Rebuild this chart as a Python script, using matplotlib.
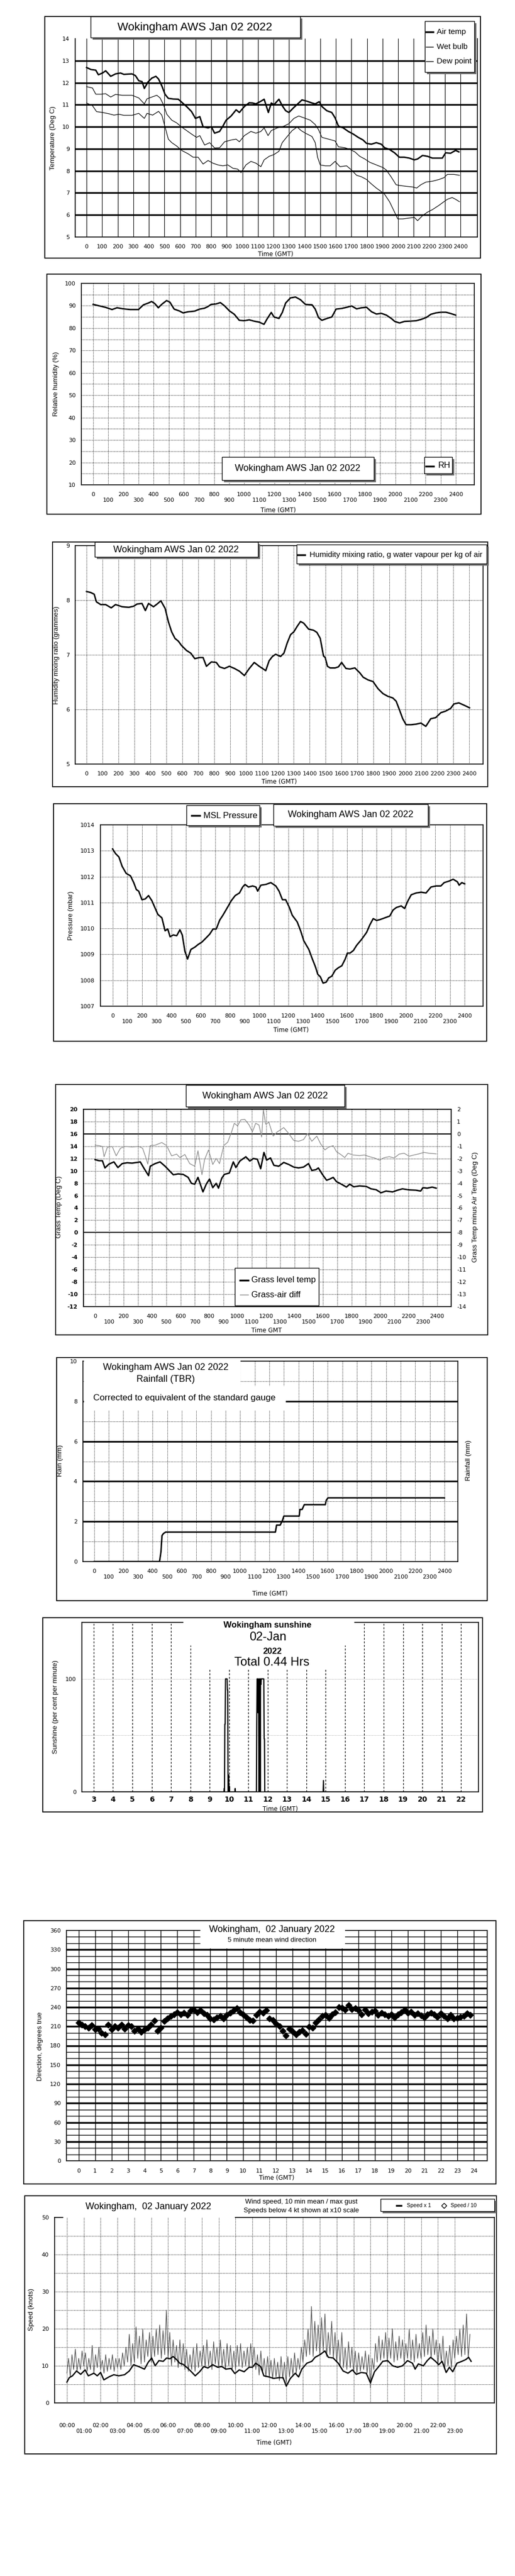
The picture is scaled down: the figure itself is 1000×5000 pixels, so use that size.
import numpy as np
import matplotlib
matplotlib.use("Agg")
import matplotlib.pyplot as plt
from matplotlib.patches import Rectangle
from matplotlib.lines import Line2D

# ---------------- data (time in hhmm-style hundreds or hours) ----------------
air_t = [0, 28, 59, 76, 102, 123, 155, 186, 218, 239, 292, 314, 335, 356, 371, 394, 419, 445, 462, 483,
         504, 525, 557, 589, 610, 642, 674, 699, 727, 748, 780, 801, 822, 854, 875, 896, 928, 960, 981, 1013,
         1044, 1066, 1087, 1119, 1140, 1167, 1186, 1203, 1235, 1256, 1278, 1299, 1331, 1362, 1383, 1415, 1447, 1468, 1494, 1511,
         1542, 1574, 1595, 1617, 1648, 1680, 1712, 1744, 1775, 1797, 1828, 1860, 1892, 1913, 1945, 1977, 2008, 2040, 2072, 2104,
         2125, 2157, 2189, 2220, 2263, 2284, 2305, 2337, 2369, 2390]
air_v = [12.69, 12.6, 12.57, 12.36, 12.44, 12.54, 12.29, 12.4, 12.44, 12.38, 12.4, 12.32, 12.09, 12.05, 11.74, 12.03, 12.21, 12.29, 12.17, 11.86,
         11.47, 11.29, 11.26, 11.25, 11.12, 10.92, 10.69, 10.38, 10.46, 10.0, 9.95, 10.0, 9.71, 9.79, 10.03, 10.3, 10.49, 10.77, 10.65, 10.92,
         11.09, 11.08, 11.04, 11.16, 11.25, 10.65, 11.08, 11.0, 11.25, 10.96, 10.73, 10.65, 10.88, 11.08, 11.22, 11.16, 11.08, 11.04, 11.14, 10.92,
         10.73, 10.65, 10.41, 10.03, 9.95, 9.79, 9.67, 9.52, 9.4, 9.25, 9.21, 9.28, 9.21, 9.05, 8.97, 8.82, 8.62, 8.62, 8.58, 8.5,
         8.54, 8.7, 8.66, 8.58, 8.58, 8.58, 8.82, 8.8, 8.93, 8.86]

wet_t = [0, 38, 59, 91, 123, 155, 186, 229, 292, 335, 371, 388, 419, 451, 472, 494, 515, 547, 578, 610,
         642, 674, 706, 727, 758, 790, 822, 854, 886, 928, 960, 981, 1013, 1055, 1087, 1119, 1140, 1165, 1186, 1225,
         1267, 1299, 1331, 1362, 1394, 1436, 1468, 1489, 1511, 1553, 1595, 1617, 1659, 1691, 1723, 1754, 1786, 1818, 1860, 1903,
         1924, 1955, 1987, 2008, 2051, 2093, 2119, 2146, 2178, 2220, 2263, 2294, 2316, 2358, 2394]
wet_v = [11.82, 11.76, 11.48, 11.48, 11.5, 11.35, 11.47, 11.43, 11.43, 11.31, 11.04, 11.27, 11.35, 11.43, 11.31, 11.0, 10.57, 10.3, 10.18, 9.99,
         9.83, 9.67, 9.52, 9.6, 9.17, 9.28, 9.04, 9.05, 9.32, 9.4, 9.44, 9.32, 9.6, 9.79, 9.71, 9.79, 9.95, 9.6, 9.83, 9.95,
         10.03, 10.14, 10.38, 10.49, 10.41, 10.3, 10.1, 9.87, 9.52, 9.44, 9.36, 9.09, 9.05, 8.97, 8.86, 8.66, 8.54, 8.39, 8.27, 8.15,
         8.04, 7.73, 7.37, 7.34, 7.3, 7.27, 7.22, 7.37, 7.49, 7.53, 7.61, 7.69, 7.84, 7.84, 7.8]

dew_t = [0, 38, 64, 102, 144, 176, 208, 239, 292, 335, 371, 388, 424, 462, 483, 504, 525, 547, 578, 610,
         653, 684, 716, 748, 780, 811, 843, 875, 907, 939, 970, 992, 1023, 1055, 1087, 1119, 1140, 1172, 1203, 1235,
         1256, 1288, 1320, 1352, 1377, 1405, 1447, 1468, 1483, 1500, 1532, 1564, 1595, 1627, 1669, 1701, 1733, 1765, 1797, 1828,
         1860, 1892, 1913, 1945, 1977, 1998, 2030, 2072, 2104, 2125, 2157, 2189, 2220, 2263, 2294, 2316, 2347, 2369, 2394]
dew_v = [11.08, 10.96, 10.69, 10.65, 10.59, 10.53, 10.57, 10.52, 10.52, 10.61, 10.38, 10.61, 10.53, 10.7, 10.53, 9.99, 9.44, 9.28, 9.13, 8.93,
         8.77, 8.62, 8.62, 8.31, 8.47, 8.35, 8.27, 8.23, 8.27, 8.12, 8.08, 7.92, 8.27, 8.43, 8.35, 8.19, 8.5, 8.66, 8.74, 8.89,
         9.28, 9.56, 9.83, 9.99, 9.83, 9.71, 9.56, 9.28, 8.62, 8.27, 8.23, 8.23, 8.43, 8.19, 8.23, 8.04, 7.8, 7.73, 7.61, 7.41,
         7.22, 7.06, 6.94, 6.6, 6.13, 5.82, 5.82, 5.86, 5.89, 5.74, 5.97, 6.13, 6.24, 6.44, 6.6, 6.71, 6.79, 6.71, 6.6]

rh_t = [0, 37, 81, 125, 158, 201, 245, 300, 333, 365, 387, 409, 431, 457, 486, 508, 536, 573, 595, 628,
        672, 705, 737, 759, 781, 814, 842, 869, 902, 934, 967, 1000, 1033, 1066, 1098, 1131, 1153, 1179, 1197, 1230,
        1252, 1274, 1306, 1339, 1372, 1405, 1449, 1470, 1492, 1514, 1547, 1580, 1608, 1646, 1678, 1711, 1744, 1777, 1810, 1843,
        1875, 1908, 1941, 1974, 1996, 2028, 2061, 2094, 2138, 2171, 2204, 2236, 2269, 2302, 2335, 2368, 2400]
rh_v = [90.6, 90.0, 89.3, 88.3, 89.1, 88.6, 88.3, 88.3, 90.4, 91.2, 91.9, 90.9, 89.1, 90.8, 92.3, 91.6, 88.5, 87.6, 86.8, 87.3,
        87.6, 88.5, 88.9, 89.6, 90.6, 90.8, 91.4, 90.0, 87.7, 86.2, 83.5, 83.3, 83.7, 83.1, 82.7, 81.7, 84.3, 87.0, 85.0, 84.3,
        87.0, 91.2, 93.5, 93.9, 92.7, 90.6, 90.4, 88.5, 84.7, 83.5, 84.3, 85.0, 88.5, 88.8, 89.3, 89.9, 88.6, 89.1, 89.3, 87.3,
        86.3, 86.6, 85.8, 84.3, 83.0, 82.3, 83.0, 83.1, 83.3, 83.9, 84.7, 86.2, 86.8, 87.1, 87.1, 86.5, 85.8]

mr_t = [0, 27, 48, 62, 89, 120, 155, 182, 224, 265, 296, 317, 348, 369, 389, 420, 447, 466, 493, 513,
        534, 555, 576, 596, 627, 654, 679, 710, 731, 752, 783, 814, 834, 865, 896, 928, 959, 990, 1021, 1052,
        1083, 1104, 1124, 1145, 1166, 1186, 1217, 1238, 1259, 1280, 1300, 1321, 1342, 1362, 1393, 1424, 1445, 1466, 1486, 1497,
        1511, 1528, 1559, 1580, 1600, 1627, 1652, 1683, 1714, 1735, 1766, 1797, 1828, 1859, 1890, 1921, 1942, 1963, 1983, 2004,
        2035, 2066, 2097, 2128, 2159, 2190, 2222, 2253, 2284, 2304, 2335, 2366, 2402]
mr_v = [8.16, 8.14, 8.11, 7.97, 7.92, 7.92, 7.86, 7.92, 7.88, 7.87, 7.89, 7.93, 7.94, 7.81, 7.94, 7.88, 7.94, 7.99, 7.85, 7.61,
        7.42, 7.30, 7.25, 7.17, 7.08, 7.03, 6.93, 6.95, 6.95, 6.79, 6.87, 6.86, 6.78, 6.75, 6.79, 6.75, 6.70, 6.62, 6.75, 6.86,
        6.79, 6.75, 6.71, 6.89, 6.97, 7.01, 6.97, 7.03, 7.22, 7.37, 7.42, 7.52, 7.61, 7.58, 7.47, 7.45, 7.41, 7.30, 6.98, 6.95,
        6.79, 6.76, 6.76, 6.78, 6.86, 6.75, 6.74, 6.76, 6.67, 6.59, 6.54, 6.51, 6.38, 6.29, 6.24, 6.21, 6.15, 5.99, 5.83, 5.72,
        5.72, 5.73, 5.75, 5.69, 5.83, 5.85, 5.94, 5.97, 6.02, 6.10, 6.12, 6.08, 6.03]

p_t = [0, 20, 43, 65, 92, 122, 144, 162, 178, 200, 223, 245, 268, 291, 309, 336, 358, 376, 392, 414,
       437, 459, 475, 493, 511, 534, 561, 583, 610, 640, 662, 685, 707, 730, 752, 786, 809, 836, 865, 887,
       903, 926, 955, 977, 989, 1011, 1045, 1079, 1113, 1135, 1158, 1180, 1203, 1225, 1259, 1282, 1304, 1338, 1360, 1383,
       1399, 1417, 1435, 1457, 1473, 1495, 1518, 1541, 1563, 1586, 1601, 1619, 1642, 1664, 1698, 1732, 1755, 1777, 1800, 1822,
       1856, 1890, 1912, 1935, 1968, 1991, 2014, 2036, 2070, 2104, 2137, 2171, 2205, 2238, 2261, 2295, 2322, 2351, 2363, 2381, 2401]
p_v = [1013.07, 1012.89, 1012.76, 1012.40, 1012.13, 1012.03, 1011.77, 1011.50, 1011.44, 1011.11,
       1011.14, 1011.27, 1011.07, 1010.77, 1010.54, 1010.41, 1009.91, 1009.98, 1009.68, 1009.75,
       1009.72, 1009.95, 1009.75, 1009.12, 1008.82, 1009.19, 1009.28, 1009.38, 1009.48, 1009.65,
       1009.78, 1009.98, 1009.98, 1010.32, 1010.51, 1010.84, 1011.07, 1011.27, 1011.37, 1011.60,
       1011.70, 1011.60, 1011.64, 1011.60, 1011.44, 1011.67, 1011.70, 1011.77, 1011.64, 1011.44,
       1011.11, 1011.11, 1010.84, 1010.51, 1010.25, 1009.91, 1009.52, 1009.19, 1008.85, 1008.52,
       1008.23, 1008.13, 1007.89, 1007.93, 1008.09, 1008.16, 1008.39, 1008.49, 1008.56, 1008.82,
       1009.05, 1009.05, 1009.15, 1009.35, 1009.58, 1009.85, 1010.15, 1010.38, 1010.31, 1010.34,
       1010.41, 1010.48, 1010.71, 1010.81, 1010.87, 1010.77, 1011.07, 1011.30, 1011.37, 1011.40,
       1011.37, 1011.60, 1011.64, 1011.64, 1011.77, 1011.83, 1011.90, 1011.80, 1011.67, 1011.77, 1011.72]

grass_t = [0, 28, 51, 69, 97, 132, 160, 190, 225, 259, 294, 317, 340, 375, 387, 421, 456, 491, 514, 549,
           583, 618, 653, 676, 699, 722, 757, 780, 803, 826, 850, 866, 889, 907, 942, 970, 988, 1016, 1058, 1086,
           1111, 1139, 1162, 1185, 1204, 1231, 1255, 1289, 1324, 1359, 1394, 1428, 1463, 1498, 1521, 1551, 1567, 1597, 1625, 1648,
           1671, 1694, 1729, 1764, 1787, 1815, 1856, 1903, 1937, 1972, 2007, 2042, 2088, 2123, 2157, 2204, 2250, 2285, 2301, 2331,
           2366, 2394]
grass_v = [11.82, 11.65, 11.65, 10.48, 11.10, 11.46, 10.54, 11.18, 11.32, 11.26, 11.37, 11.46, 10.54, 9.23, 10.76, 11.18, 11.46, 10.76, 10.21, 9.37,
           9.51, 9.43, 8.95, 7.98, 7.84, 8.95, 6.59, 7.84, 8.68, 7.28, 7.98, 7.20, 8.81, 9.43, 9.65, 11.46, 10.54, 11.60, 12.29, 11.60,
           12.01, 11.88, 10.35, 12.99, 11.74, 12.10, 10.90, 10.76, 11.37, 11.04, 10.62, 10.48, 10.62, 11.18, 10.07, 10.21, 10.48, 9.37, 8.48, 8.68,
           8.95, 8.26, 7.84, 7.37, 7.84, 7.42, 7.56, 7.48, 7.09, 6.95, 6.45, 6.73, 6.59, 6.87, 7.09, 6.92, 6.87, 6.73, 7.28, 7.20,
           7.37, 7.20]

diff_t = [0, 28, 51, 63, 86, 120, 148, 178, 213, 259, 306, 333, 352, 370, 387, 421, 468, 502, 537, 572,
          595, 630, 664, 699, 722, 750, 769, 796, 826, 850, 873, 903, 931, 958, 977, 1000, 1023, 1051, 1081, 1104,
          1127, 1150, 1169, 1181, 1197, 1220, 1250, 1278, 1301, 1324, 1359, 1394, 1428, 1463, 1491, 1521, 1556, 1583, 1613, 1637,
          1671, 1694, 1729, 1752, 1775, 1810, 1856, 1891, 1926, 1961, 1995, 2030, 2065, 2100, 2134, 2169, 2204, 2238, 2273, 2308,
          2343, 2394]
diff_v = [-0.92, -0.95, -1.02, -1.85, -1.09, -1.02, -1.78, -1.16, -1.02, -1.06, -1.02, -1.16, -1.78, -2.45, -0.95, -0.92, -0.70, -0.95, -1.78, -1.64,
          -1.92, -1.67, -2.41, -2.62, -1.37, -3.31, -2.06, -1.30, -2.48, -1.99, -2.41, -0.95, -0.67, 0.16, 0.86, 0.65, 1.14, 1.17, 0.72, 0.16,
          0.86, 0.72, -0.25, 1.97, 0.79, 0.93, -0.18, 0.16, 0.33, 0.51, 0.03, -0.53, -0.60, -0.46, 0.03, -0.60, -0.18, -0.81, -1.30, -1.09,
          -0.95, -1.44, -1.71, -1.92, -1.57, -1.71, -1.76, -1.71, -1.85, -1.95, -2.13, -1.92, -1.85, -1.95, -1.64, -1.57, -1.81, -1.71, -1.62, -1.50,
          -1.57, -1.62]

rain_t = [0, 448, 458, 465, 475, 490, 1242, 1250, 1275, 1290, 1300, 1405, 1410, 1425, 1440, 1584, 1590, 1602, 2400]
rain_v = [0, 0, 0.5, 1.3, 1.4, 1.47, 1.47, 1.82, 1.82, 2.05, 2.27, 2.27, 2.6, 2.6, 2.84, 2.84, 3.05, 3.18, 3.18]

sun_min = [180, 584, 585, 586, 587, 588, 589, 590, 591, 592, 593, 594, 595, 596, 597, 598, 599, 600, 601, 602,
           618, 619, 620, 685, 686, 687, 688, 689, 690, 691, 692, 693, 694, 695, 696, 697, 698, 699, 700, 708,
           709, 710, 711, 892, 893, 894, 1320]
sun_pct = [0, 0, 3, 0, 60, 60, 100, 100, 100, 100, 100, 100, 90, 90, 0, 0, 15, 0, 5, 0,
           0, 3, 0, 0, 60, 100, 100, 100, 70, 100, 70, 0, 100, 0, 100, 0, 100, 95, 100, 100,
           47, 47, 0, 0, 10, 0, 0]

# 5-minute mean wind direction, sampled every 0.2 h
dir_deg = [216, 213, 210, 208, 212, 205, 206, 200, 197, 213, 205, 210, 208, 213, 206, 212, 210, 203, 206, 201,
           205, 208, 213, 219, 203, 208, 218, 222, 226, 229, 232, 229, 231, 228, 234, 236, 232, 235, 230, 228,
           222, 221, 224, 226, 222, 228, 231, 234, 238, 232, 229, 224, 220, 219, 228, 233, 231, 235, 222, 220,
           214, 210, 203, 196, 206, 202, 197, 201, 204, 198, 209, 208, 216, 221, 226, 228, 223, 229, 232, 240,
           239, 236, 243, 237, 238, 235, 229, 236, 230, 233, 234, 228, 231, 229, 226, 229, 224, 229, 232, 236,
           231, 233, 228, 230, 227, 224, 229, 231, 229, 225, 230, 226, 222, 228, 222, 223, 225, 226, 230, 228]

mean_t = [0.0, 0.14, 0.33, 0.57, 0.82, 1.08, 1.27, 1.6, 1.8, 2.0, 2.19, 2.49, 2.78, 3.07, 3.42, 3.7, 3.95, 4.25, 4.6, 4.83,
          5.03, 5.23, 5.46, 5.71, 5.91, 6.11, 6.3, 6.5, 6.69, 6.89, 7.18, 7.38, 7.61, 7.87, 8.12, 8.36, 8.65, 8.94, 9.18, 9.43,
          9.73, 9.96, 10.22, 10.51, 10.8, 11.0, 11.19, 11.49, 11.68, 11.98, 12.27, 12.56, 12.82, 13.01, 13.25, 13.54, 13.74, 13.93, 14.23, 14.52,
          14.72, 15.01, 15.3, 15.5, 15.79, 16.09, 16.38, 16.67, 16.93, 17.16, 17.46, 17.75, 18.0, 18.24, 18.53, 18.73, 19.02, 19.32, 19.61, 19.9,
          20.2, 20.49, 20.65, 20.84, 21.14, 21.37, 21.57, 21.86, 22.05, 22.25, 22.49, 22.68, 22.88, 23.13, 23.42, 23.66, 23.82, 23.97]
mean_kt = [5.6, 6.8, 7.3, 8.6, 7.7, 8.9, 7.3, 8.0, 7.3, 8.2, 6.2, 7.0, 7.6, 7.3, 7.6, 8.6, 10.3, 9.8, 9.1, 11.0,
           12.1, 10.0, 11.4, 11.2, 12.1, 11.9, 12.5, 11.7, 10.7, 10.4, 9.3, 8.4, 7.3, 8.4, 9.8, 9.4, 10.3, 9.6, 9.8, 9.1,
           9.3, 7.9, 8.9, 8.4, 9.6, 9.6, 10.7, 9.8, 7.3, 7.0, 6.6, 6.8, 6.8, 4.5, 6.6, 8.0, 7.0, 9.1, 10.7, 11.2,
           12.3, 13.0, 14.0, 12.3, 12.1, 10.7, 8.6, 8.0, 8.9, 7.7, 8.2, 8.0, 5.4, 8.4, 10.0, 11.2, 11.4, 10.0, 9.6, 10.0,
           11.4, 10.7, 9.1, 10.5, 10.0, 11.4, 12.3, 11.2, 10.3, 11.2, 8.2, 9.6, 8.4, 10.7, 11.2, 11.7, 12.3, 11.2]

# max gust, sampled every 0.1 h
gust_kt = [8, 12, 7, 13, 9, 14.5, 8.5, 12, 9, 14,
           10, 13.5, 8.5, 12, 9, 15.5, 8, 13, 9.5, 15,
           9, 11.5, 8, 13, 8.5, 12, 9, 13, 8.5, 12,
           9.5, 12, 9, 13.5, 10, 15, 11, 18.5, 10, 16,
           11, 20.5, 12, 18, 10.5, 20, 11, 17, 12.5, 19,
           11, 18, 12.5, 20, 13, 21, 12, 19.5, 13, 25,
           12, 19, 10, 17, 11, 15.5, 9.5, 17, 10, 16,
           9, 14.5, 8.5, 13, 9, 15, 8.5, 16, 9.5, 14,
           10, 15.5, 9.5, 17, 10, 14, 9, 16.5, 10.5, 15,
           9.5, 17, 10, 14.5, 9, 16, 10, 15.5, 9, 14,
           9, 15.5, 10, 16, 9.5, 14, 10, 15, 9.5, 16,
           10, 15, 9, 13, 7.5, 14, 8, 12, 7, 12.5,
           7, 11.5, 6.5, 12, 7, 11, 6, 12.5, 6.5, 11,
           5.5, 12.5, 7, 12, 7.5, 13.5, 8, 12, 9, 15,
           11, 17, 12.5, 20, 13, 26, 12.5, 22, 14, 21,
           13, 23, 14, 24, 12.5, 19, 13, 22, 12, 19,
           11, 17, 10, 19, 9.5, 15, 9, 16.5, 9.5, 15,
           8.5, 14, 8, 13.5, 8.5, 12.5, 9, 14, 8, 13,
           4, 12, 9, 16, 11, 18, 11.5, 17, 12, 19,
           11, 17.5, 12, 20, 11, 16.5, 11.5, 18, 12, 17,
           11, 16, 12, 20, 11.5, 17, 11, 18.5, 12, 16,
           12, 19, 12.5, 21, 13, 18, 12, 20, 13, 17,
           10, 16, 11, 18, 9, 14, 10, 15.5, 9.5, 17,
           12, 18, 13, 20, 12.5, 21, 13, 24, 12, 18.5]

TITLE = 'Wokingham AWS Jan 02 2022'

# ---------------- figure helpers (positions in pixels from top-left) ----------------
plt.rcParams['font.family'] = ['DejaVu Sans']
plt.rcParams['axes.unicode_minus'] = False
ARIAL = ['Liberation Sans', 'DejaVu Sans']

W, H = 1000, 5000
fig = plt.figure(figsize=(10, 50), dpi=100)


def fig_rect(x0, y0, x1, y1, **kw):
    r = Rectangle((x0 / W, 1 - y1 / H), (x1 - x0) / W, (y1 - y0) / H,
                  transform=fig.transFigure, **kw)
    fig.add_artist(r)


def frame(x0, y0, x1, y1):
    fig_rect(x0, y0, x1, y1, fill=False, ec='black', lw=1.3, zorder=5)


def box(x0, y0, x1, y1, shadow=True):
    if shadow:
        fig_rect(x0 + 4, y0 + 4, x1 + 4, y1 + 4, fc='#6e6e6e', ec='none', zorder=6)
    fig_rect(x0, y0, x1, y1, fc='white', ec='black', lw=1, zorder=7)


def blank(x0, y0, x1, y1):
    fig_rect(x0, y0, x1, y1, fc='white', ec='none', zorder=6)


def txt(x, y, s, size=9, ha='center', va='center', family=ARIAL, **kw):
    return fig.text(x / W, 1 - y / H, s, fontsize=size, ha=ha, va=va,
                    family=family, zorder=8, **kw)


def fig_line(x0, x1, y, lw=2.5, color='black'):
    fig.add_artist(Line2D([x0 / W, x1 / W], [1 - y / H, 1 - y / H],
                          transform=fig.transFigure, color=color, lw=lw, zorder=8))


def make_axes(x0, y0, x1, y1):
    ax = fig.add_axes([x0 / W, 1 - y1 / H, (x1 - x0) / W, (y1 - y0) / H])
    ax.tick_params(length=0, labelsize=8, pad=8)
    for s in ax.spines.values():
        s.set_linewidth(1.2)
    return ax


def hundreds_ticks(ax, two_rows):
    ticks = list(range(0, 2500, 100))
    if two_rows:
        labels = [str(t) if t % 200 == 0 else '\n' + str(t) for t in ticks]
    else:
        labels = [str(t) for t in ticks]
    ax.set_xticks(ticks)
    ax.set_xticklabels(labels)
    ax.tick_params(axis='x', pad=10)


DOT = (0, (1, 1.6))


def vgrid(ax, xs, **kw):
    for x in xs:
        ax.axvline(x, zorder=1, **kw)


def hgrid(ax, ys, **kw):
    for y in ys:
        ax.axhline(y, zorder=1, **kw)


# ---------------- 1. temperatures ----------------
frame(87, 32, 933, 501)
ax = make_axes(146, 75, 927, 460)
ax.plot(air_t, air_v, color='black', lw=2.0, zorder=3)
ax.plot(wet_t, wet_v, color='black', lw=0.9, zorder=3)
ax.plot(dew_t, dew_v, color='black', lw=0.9, zorder=3)
ax.set_xlim(-73, 2509)
ax.set_ylim(5, 14)
ax.set_yticks(range(5, 15))
hgrid(ax, range(6, 14), color='black', lw=2.3)
vgrid(ax, range(0, 2500, 100), color='black', lw=0.8)
ax.spines['top'].set_visible(False)
hundreds_ticks(ax, False)
txt(103, 268, 'Temperature (Deg C)', 9.5, rotation=90)
txt(535, 493, 'Time (GMT)', 8.5, family=['DejaVu Sans'])
box(176, 32, 583, 73)
txt(378, 53, TITLE, 16)
box(825, 41, 921, 140)
for yy, name, lw in [(62, 'Air temp', 2.5), (91, 'Wet bulb', 1), (119, 'Dew point', 1)]:
    fig_line(827, 841, yy, lw=lw)
    txt(848, yy, name, 11, ha='left')

# ---------------- 2. relative humidity ----------------
frame(91, 532, 934, 998)
ax = make_axes(158, 550, 921, 941)
ax.plot(rh_t, rh_v, color='black', lw=2.0, zorder=3)
ax.set_xlim(-78, 2523)
ax.set_ylim(10, 100)
ax.set_yticks(range(10, 101, 10))
hgrid(ax, range(15, 100, 5), color='black', lw=0.8, ls=DOT)
vgrid(ax, range(0, 2500, 100), color='black', lw=0.8, ls=DOT)
hundreds_ticks(ax, True)
txt(109, 745, 'Relative humidity (%)', 9.5, rotation=90)
txt(540, 991, 'Time (GMT)', 8.5, family=['DejaVu Sans'])
box(431, 887, 726, 932)
txt(578, 909, TITLE, 13)
box(824, 887, 878, 919)
fig_line(827, 842, 905)
txt(851, 904, 'RH', 12, ha='left')

# ---------------- 3. mixing ratio ----------------
frame(102, 1052, 947, 1527)
ax = make_axes(146, 1059, 938, 1483)
ax.plot(mr_t, mr_v, color='black', lw=2.0, zorder=3)
ax.set_xlim(-71, 2487)
ax.set_ylim(5, 9)
ax.set_yticks(range(5, 10))
hgrid(ax, [6, 7, 8], color='black', lw=0.8, ls=DOT)
vgrid(ax, range(0, 2500, 100), color='black', lw=0.8, ls=DOT)
hundreds_ticks(ax, False)
txt(110, 1272, 'Humidity mixing ratio (grammes)', 9.5, rotation=90)
txt(542, 1517, 'Time (GMT)', 8.5, family=['DejaVu Sans'])
box(184, 1052, 501, 1081)
txt(342, 1067, TITLE, 13)
box(576, 1057, 945, 1094)
fig_line(578, 592, 1077)
txt(601, 1077, 'Humidity mixing ratio, g water vapour per kg of air', 11, ha='left')

# ---------------- 4. pressure ----------------
frame(104, 1560, 945, 2021)
ax = make_axes(195, 1601, 938, 1953)
ax.plot(p_t, p_v, color='black', lw=2.0, zorder=3)
ax.set_xlim(-83, 2526)
ax.set_ylim(1007, 1014)
ax.set_yticks(range(1007, 1015))
hgrid(ax, range(1008, 1014), color='black', lw=0.8, ls=DOT)
vgrid(ax, range(0, 2500, 100), color='black', lw=0.8, ls=DOT)
hundreds_ticks(ax, True)
txt(138, 1777, 'Pressure (mbar)', 9.5, rotation=90)
txt(565, 2000, 'Time (GMT)', 8.5, family=['DejaVu Sans'])
box(362, 1563, 504, 1602)
fig_line(372, 388, 1583)
txt(395, 1583, 'MSL Pressure', 12, ha='left')
box(531, 1561, 831, 1603)
txt(681, 1582, TITLE, 13)

# ---------------- 5. grass temperature ----------------
frame(108, 2105, 947, 2591)
ax = make_axes(162, 2153, 876, 2536)
axr = ax.twinx()
axr.tick_params(length=0, labelsize=8, pad=8)
ax.plot(grass_t, grass_v, color='black', lw=2.0, zorder=3)
axr.plot(diff_t, diff_v, color='#8c8c8c', lw=1.0)
ax.set_xlim(-82, 2499)
ax.set_ylim(-12, 20)
axr.set_ylim(-14, 2)
ax.set_yticks(range(-12, 21, 2))
for lab in ax.get_yticklabels():
    lab.set_fontweight('bold')
axr.set_yticks(range(-14, 3))
for v in range(-10, 20, 2):
    if v in (0, 16):
        ax.axhline(v, color='black', lw=1.5, zorder=1)
    else:
        ax.axhline(v, color='black', lw=0.8, ls=DOT, zorder=1)
vgrid(ax, range(0, 2500, 100), color='black', lw=0.8, ls=DOT)
hundreds_ticks(ax, True)
txt(115, 2343, 'Grass Temp (Deg C)', 9.5, rotation=90)
txt(923, 2343, 'Grass Temp minus Air Temp (Deg C)', 9.5, rotation=90)
txt(518, 2583, 'Time GMT', 8.5, family=['DejaVu Sans'])
box(361, 2106, 669, 2148)
txt(515, 2127, TITLE, 13)
box(456, 2461, 619, 2534, shadow=False)
fig_line(466, 482, 2485)
txt(488, 2484, 'Grass level temp', 12, ha='left')
fig_line(466, 482, 2513, lw=1, color='#8c8c8c')
txt(488, 2513, 'Grass-air diff', 12, ha='left')

# ---------------- 6. rainfall ----------------
frame(110, 2635, 946, 3107)
ax = make_axes(161, 2642, 889, 3031)
ax.plot(rain_t, rain_v, color='black', lw=2.0, zorder=3)
ax.set_xlim(-77, 2492)
ax.set_ylim(0, 10)
ax.set_yticks(range(0, 11, 2))
hgrid(ax, [2, 4, 6, 8], color='black', lw=2.3)
hgrid(ax, [1, 3, 5, 7, 9], color='black', lw=0.8, ls=DOT)
vgrid(ax, range(0, 2500, 100), color='black', lw=0.8, ls=DOT)
hundreds_ticks(ax, True)
txt(117, 2835, 'Rain (mm)', 9.5, rotation=90)
txt(910, 2835, 'Rainfall (mm)', 9.5, rotation=90)
txt(524, 3093, 'Time (GMT)', 8.5, family=['DejaVu Sans'])
blank(163, 2640, 467, 2690)
blank(163, 2690, 555, 2737)
txt(322, 2654, TITLE, 13)
txt(322, 2677, 'Rainfall (TBR)', 13)
txt(358, 2714, 'Corrected to equivalent of the standard gauge', 12.5)

# ---------------- 7. sunshine ----------------
frame(83, 3140, 937, 3517)
ax = make_axes(159, 3149, 929, 3478)
ax.plot(np.array(sun_min) / 60.0, sun_pct, color='black', lw=1.6, zorder=3)
ax.set_xlim(2.39, 22.9)
ax.set_ylim(0, 150)
ax.set_yticks([0, 100])
hgrid(ax, [50, 100], color='#a0a0a0', lw=0.8, ls=DOT)
vgrid(ax, range(3, 23), color='black', lw=0.9, ls=(0, (3, 2.5)))
ax.set_xticks(range(3, 23))
ax.tick_params(axis='x', labelsize=10, pad=6)
for lab in ax.get_xticklabels():
    lab.set_fontweight('bold')
txt(108, 3313, 'Sunshine (per cent per minute)', 9.5, rotation=90)
txt(544, 3511, 'Time (GMT)', 8.5, family=['DejaVu Sans'])
blank(356, 3147, 688, 3194)
blank(372, 3194, 668, 3239)
txt(519, 3155, 'Wokingham sunshine', 12, weight='bold')
txt(520, 3178, '02-Jan', 17)
txt(529, 3206, '2022', 12, weight='bold')
txt(528, 3227, 'Total 0.44 Hrs', 17)

# ---------------- 8. wind direction ----------------
frame(46, 3728, 963, 4239)
ax = make_axes(129, 3747, 946, 4194)
dir_t = np.arange(len(dir_deg)) * 0.2
ax.plot(dir_t, dir_deg, 'D', color='black', ms=6, ls='none', zorder=3)
ax.set_xlim(-0.74, 24.82)
ax.set_ylim(0, 360)
ax.set_yticks(range(0, 361, 30))
hgrid(ax, [v for v in range(10, 360, 10) if v % 30], color='black', lw=1.0)
hgrid(ax, range(30, 360, 30), color='black', lw=2.5)
vgrid(ax, range(0, 25), color='black', lw=1.0)
ax.set_xticks(range(0, 25))
ax.tick_params(axis='x', pad=11)
txt(78, 3972, 'Direction, degrees true', 9.5, rotation=90)
txt(537, 4227, 'Time (GMT)', 8.5, family=['DejaVu Sans'])
blank(389, 3745, 670, 3782)
txt(528, 3746, 'Wokingham,  02 January 2022', 13)
txt(528, 3766, '5 minute mean wind direction', 9.5)

# ---------------- 9. wind speed ----------------
frame(48, 4262, 964, 4763)
ax = make_axes(106, 4304, 960, 4664)
gust_t = np.arange(len(gust_kt)) / 10.0
ax.plot(gust_t, gust_kt, color='#555555', lw=0.9, zorder=2)
ax.plot(mean_t, mean_kt, color='black', lw=1.8, zorder=3)
ax.set_xlim(-0.73, 25.35)
ax.set_ylim(0, 50)
ax.set_yticks(range(0, 51, 10))
hgrid(ax, range(5, 50, 5), color='black', lw=0.8, ls=DOT)
vgrid(ax, range(0, 24), color='black', lw=0.8, ls=DOT)
hrs = list(range(0, 24))
ax.set_xticks(hrs)
ax.set_xticklabels(['%02d:00' % h if h % 2 == 0 else '\n%02d:00' % h for h in hrs])
ax.tick_params(axis='x', pad=28)
ax.spines['top'].set_visible(False)
ax.plot([10.0, 25.35], [50, 50], color='black', lw=1.2, clip_on=False, zorder=4)
ax.plot([-0.73, -0.25], [50, 50], color='black', lw=1.2, clip_on=False, zorder=4)
txt(61, 4483, 'Speed (knots)', 9.5, rotation=90)
txt(532, 4741, 'Time (GMT)', 8.5, family=['DejaVu Sans'])
txt(288, 4284, 'Wokingham,  02 January 2022', 13)
txt(585, 4274, 'Wind speed, 10 min mean / max gust', 9.5)
txt(585, 4291, 'Speeds below 4 kt shown at x10 scale', 9.5)
box(739, 4268, 960, 4292)
fig_line(770, 779, 4281)
txt(790, 4281, 'Speed x 1', 7.5, ha='left')
fig.add_artist(Line2D([862 / W], [1 - 4281 / H], marker='D', ms=5, mfc='white', mec='black',
                      transform=fig.transFigure, zorder=8))
txt(875, 4281, 'Speed / 10', 7.5, ha='left')

fig.savefig('out.png', dpi=100, facecolor='white')
